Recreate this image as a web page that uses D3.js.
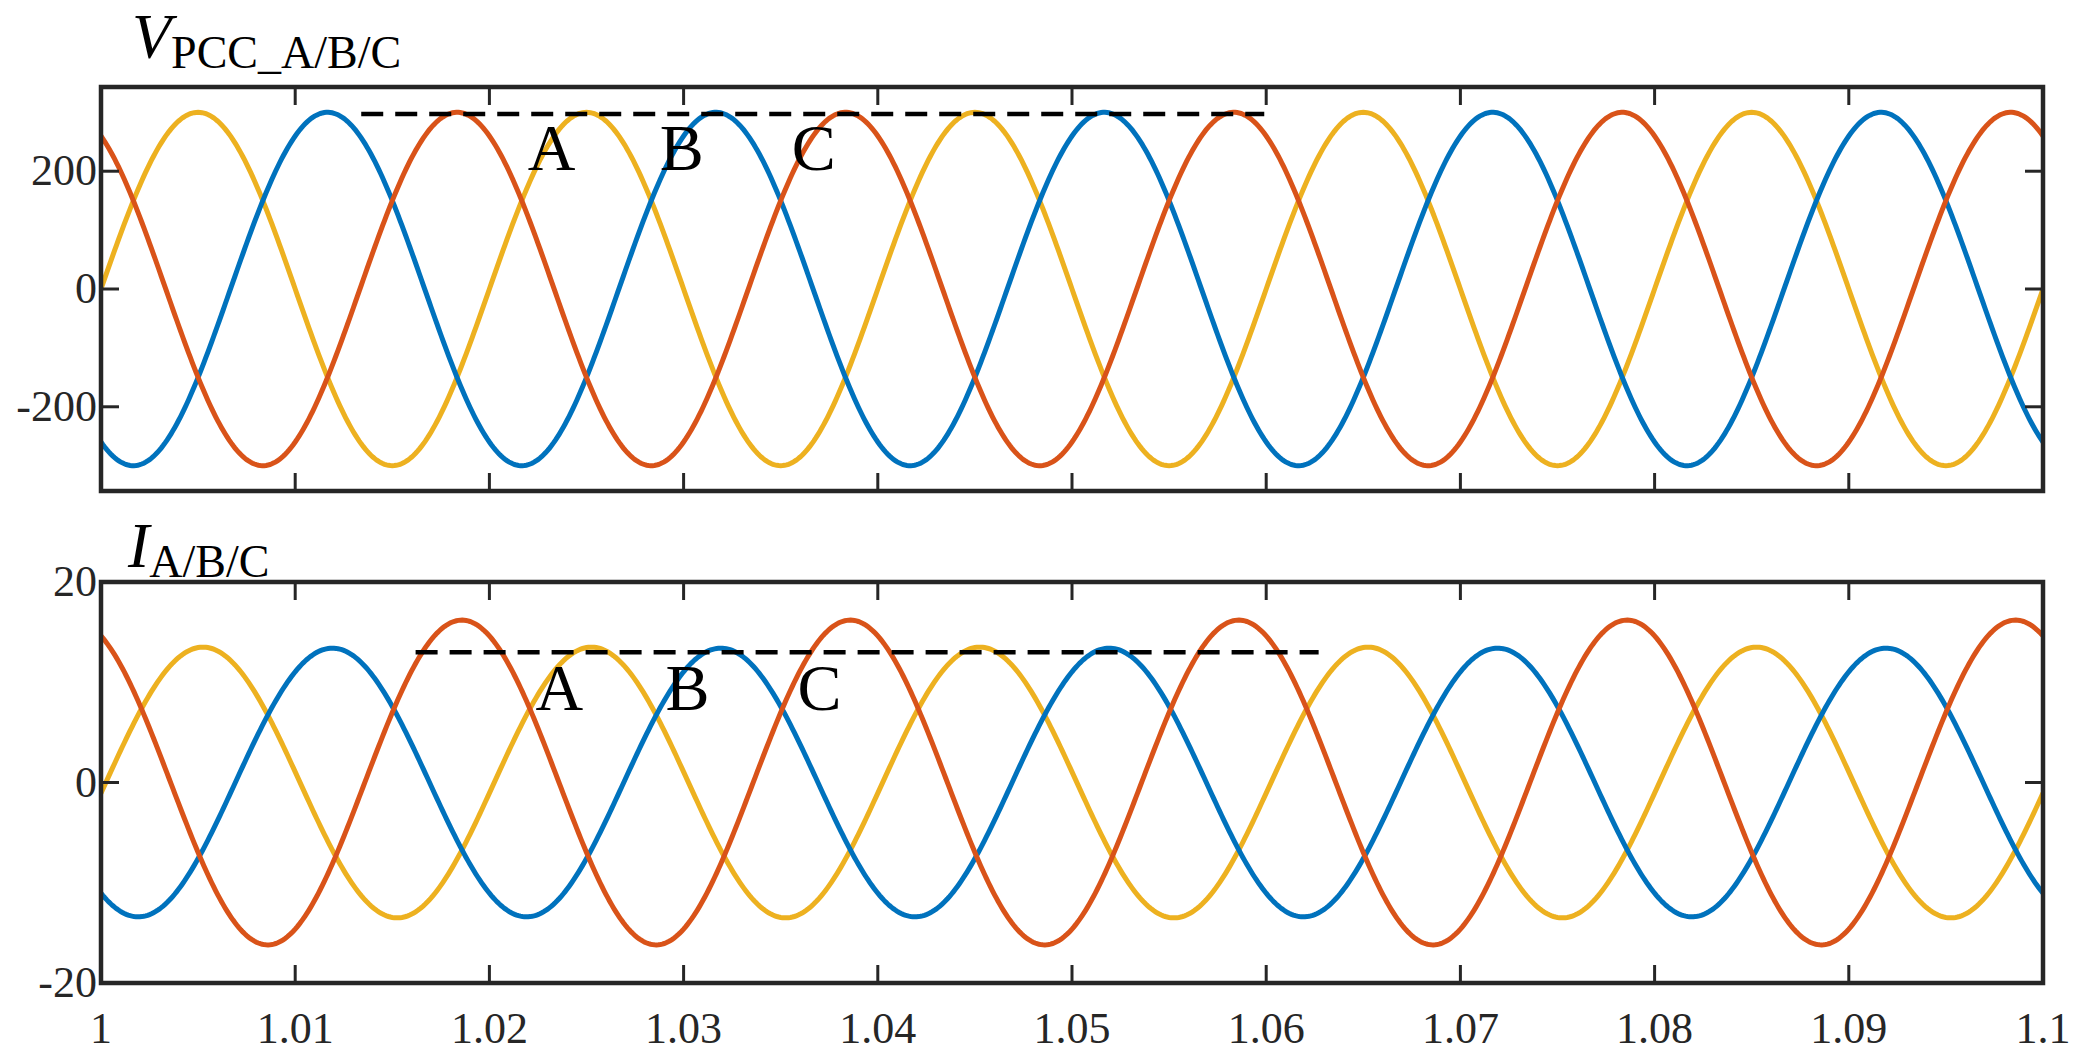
<!DOCTYPE html>
<html><head><meta charset="utf-8">
<script src="https://cdn.jsdelivr.net/npm/d3@7"></script>
<style>body{margin:0;background:#fff}svg text{font-family:"Liberation Serif",serif;fill:#262626}</style>
</head><body>
<svg id="c" width="2090" height="1061"></svg>
<script>
const xTicks = [1,1.01,1.02,1.03,1.04,1.05,1.06,1.07,1.08,1.09,1.1];
const xTickLabels = ["1","1.01","1.02","1.03","1.04","1.05","1.06","1.07","1.08","1.09","1.1"];
const phases = ["A","B","C"];
const phaseColors = ["#EDB120","#0072BD","#D95319"];
const freqHz = 50;
const vAmp = [300,300,300];
const vPhaseDeg = [0,-120,120];
const iAmp = [13.5,13.4,16.2];
const iPhaseDeg = [-4.5,-124.5,115.5];
const vTicks = [-200,0,200];
const iTicks = [-20,0,20];
const vDash = {x0:1.0134, x1:1.0599, y:297};
const iDash = {x0:1.0162, x1:1.0627, y:13};
const vLabelX = [1.0232, 1.0299, 1.0367];
const iLabelX = [1.0236, 1.0302, 1.0370];

const svg = d3.select("#c");
const L=101,R=2043;
const FF="Liberation Serif";
const x = d3.scaleLinear().domain([1,1.1]).range([L,R]);

function wave(amp, ph){
  const pts=[];
  for(let t=1;t<=1.1+1e-9;t+=0.0001){pts.push([t, amp*Math.sin(2*Math.PI*freqHz*(t-1)+ph*Math.PI/180)]);}
  return pts;
}
function panel(top,bottom,domain,ticks,amps,phs,dash,labX,labY,title,sub,titleX,titleY,showXLabels){
  const y=d3.scaleLinear().domain(domain).range([bottom,top]);
  const g=svg.append("g");
  const cp="cp"+top;
  svg.append("clipPath").attr("id",cp).append("rect").attr("x",L).attr("y",top).attr("width",R-L).attr("height",bottom-top);
  const line=d3.line().x(d=>x(d[0])).y(d=>y(d[1]));
  const gl=g.append("g").attr("clip-path",`url(#${cp})`);
  amps.forEach((a,i)=>gl.append("path").attr("d",line(wave(a,phs[i]))).attr("fill","none").attr("stroke",phaseColors[i]).attr("stroke-width",5));
  g.append("line").attr("x1",x(dash.x0)).attr("x2",x(dash.x1)).attr("y1",y(dash.y)).attr("y2",y(dash.y)).attr("stroke","#000").attr("stroke-width",4.5).attr("stroke-dasharray","22,12");
  phases.forEach((p,i)=>g.append("text").attr("x",x(labX[i])).attr("y",labY).attr("font-family",FF).attr("font-size",66).attr("text-anchor","middle").style("fill","#000").text(p));
  const tl=18;
  xTicks.forEach(t=>{
    g.append("line").attr("x1",x(t)).attr("x2",x(t)).attr("y1",bottom).attr("y2",bottom-tl).attr("stroke","#262626").attr("stroke-width",3);
    g.append("line").attr("x1",x(t)).attr("x2",x(t)).attr("y1",top).attr("y2",top+tl).attr("stroke","#262626").attr("stroke-width",3);
  });
  ticks.forEach(t=>{
    g.append("line").attr("x1",L).attr("x2",L+tl).attr("y1",y(t)).attr("y2",y(t)).attr("stroke","#262626").attr("stroke-width",3);
    g.append("line").attr("x1",R).attr("x2",R-tl).attr("y1",y(t)).attr("y2",y(t)).attr("stroke","#262626").attr("stroke-width",3);
    g.append("text").attr("x",L-4).attr("y",y(t)+14).attr("text-anchor","end").attr("font-family",FF).attr("font-size",44).text(t);
  });
  g.append("rect").attr("x",L).attr("y",top).attr("width",R-L).attr("height",bottom-top).attr("fill","none").attr("stroke","#262626").attr("stroke-width",4.5);
  if(showXLabels) xTicks.forEach((t,i)=>g.append("text").attr("x",x(t)).attr("y",1043).attr("text-anchor","middle").attr("font-family",FF).attr("font-size",44).text(xTickLabels[i]));
  const tt=g.append("text").attr("x",titleX).attr("y",titleY).attr("font-family",FF).style("fill","#000");
  tt.append("tspan").attr("font-size",64).attr("font-style","italic").text(title);
  tt.append("tspan").attr("font-size",46).attr("dy",10).text(sub);
}
panel(87,491,[-343,343],vTicks,vAmp,vPhaseDeg,vDash,vLabelX,170,"V","PCC_A/B/C",132,58,false);
panel(582,983,[-20,20],iTicks,iAmp,iPhaseDeg,iDash,iLabelX,710,"I","A/B/C",128,567,true);
</script></body></html>
